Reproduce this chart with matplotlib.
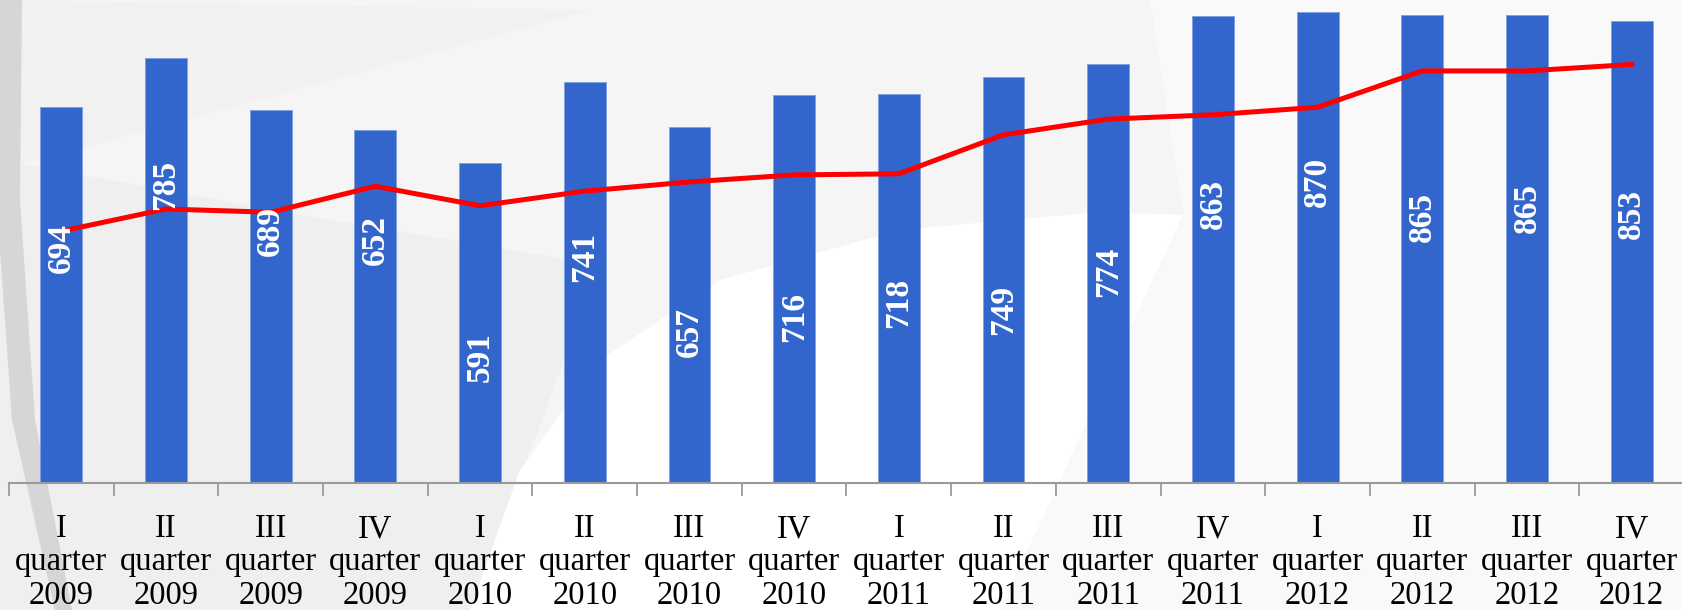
import matplotlib
matplotlib.use("Agg")
import matplotlib.pyplot as plt
from matplotlib.patches import Polygon
import numpy as np

# ---- data ----
roman = ["I", "II", "III", "IV"] * 4
years = ["2009"] * 4 + ["2010"] * 4 + ["2011"] * 4 + ["2012"] * 4
categories = [f"{r}\nquarter\n{y}" for r, y in zip(roman, years)]
bar_values = [694, 785, 689, 652, 591, 741, 657, 716, 718, 749, 774, 863, 870, 865, 865, 853]
line_values = [465, 506, 500, 548, 512, 539, 556, 569, 571, 643, 672, 680, 694, 761, 761, 773]

# ---- layout (label vertical placement, data units) ----
label_y = [434, 550, 465, 449, 233, 417, 279, 307, 332, 320, 390, 515, 556, 491, 508, 497]

W, H = 1683, 610
fig = plt.figure(figsize=(W / 100, H / 100), dpi=100)
fig.patch.set_facecolor("#f5f5f5")

def fp(pts):
    return [(x / W, 1 - y / H) for x, y in pts]

def poly(pts, color, z):
    fig.add_artist(Polygon(fp(pts), closed=True, transform=fig.transFigure,
                           facecolor=color, edgecolor="none", zorder=z))

# background decoration
poly([(1150, 0), (1683, 0), (1683, 610), (1000, 610), (1183, 215)], "#f9f9f9", -9)
poly([(0, 160), (300, 215), (600, 265), (470, 610), (0, 610)], "#efefef", -9)
poly([(0, 0), (590, 10), (0, 170)], "#f1f1f1", -9)
poly([(470, 610), (520, 470), (600, 360), (720, 280), (900, 230), (1100, 212),
      (1183, 215), (1000, 610)], "#ffffff", -8)
poly([(0, 0), (22, 0), (20, 200), (35, 420), (72, 610), (55, 610), (12, 420), (0, 250)], "#d6d6d6", -7)

ax = fig.add_axes([9 / W, 1 - 483 / H, 1675 / W, 483 / H])
ax.set_facecolor("none")

x = np.arange(len(bar_values))
ax.bar(x, bar_values, width=0.40, color="#3366CC", edgecolor="#7f9fe0", linewidth=0.6, zorder=2)
ax.plot(x, line_values, color="#FF0000", linewidth=3.6, solid_joinstyle="round", zorder=3)

for xi, v, ly in zip(x, bar_values, label_y):
    ax.text(xi, ly, str(v), rotation=90, ha="center", va="center", color="white",
            fontsize=24, fontweight="bold", family="Liberation Serif", zorder=4)

ax.set_xlim(-0.5, len(bar_values) - 0.5)
ax.set_ylim(0, 892)

for s in ["top", "right", "left"]:
    ax.spines[s].set_visible(False)
ax.spines["bottom"].set_color("#9a9a9a")
ax.spines["bottom"].set_linewidth(1.5)
ax.set_yticks([])

ax.set_xticks(x)
ax.set_xticklabels(categories, fontsize=23.5, family="Liberation Serif", color="black", linespacing=1.12)
ax.set_xticks(np.arange(-0.5, len(bar_values), 1), minor=True)
ax.tick_params(axis="x", which="major", length=0, pad=22)
ax.tick_params(axis="x", which="minor", length=9, width=1.3, color="#9a9a9a", direction="out")

fig.savefig("out.png", dpi=100, facecolor=fig.get_facecolor())
